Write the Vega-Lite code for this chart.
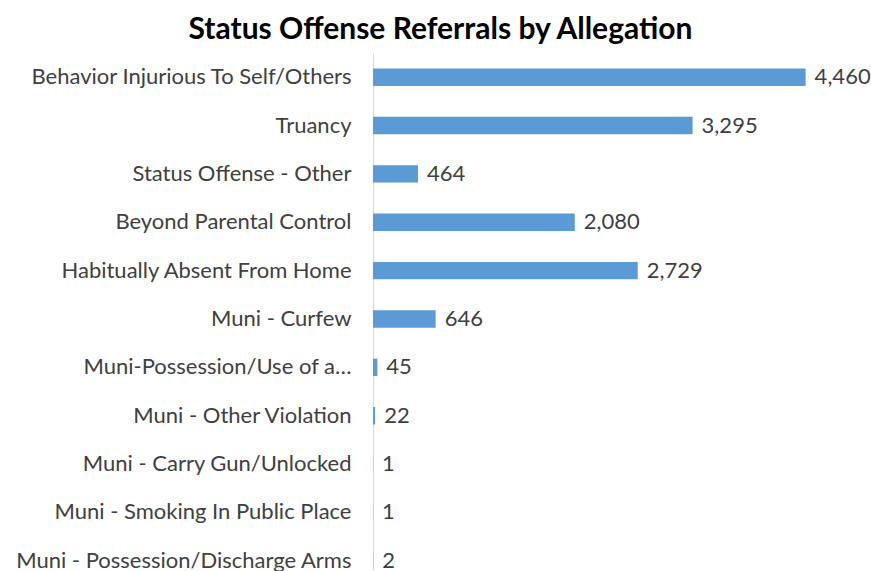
{
  "$schema": "https://vega.github.io/schema/vega-lite/v6.json",
  "autosize": "none",
  "padding": {"left": 373, "top": 53, "right": 13, "bottom": 0},
  "width": 485,
  "height": 532,
  "background": "white",
  "title": {
    "text": "Status Offense Referrals by Allegation",
    "font": "Lato",
    "fontSize": 30,
    "fontWeight": "bold",
    "color": "#000000",
    "anchor": "middle",
    "dx": -175,
    "offset": 8
  },
  "data": {
    "values": [
      {"allegation": "Behavior Injurious To Self/Others", "count": 4460},
      {"allegation": "Truancy", "count": 3295},
      {"allegation": "Status Offense - Other", "count": 464},
      {"allegation": "Beyond Parental Control", "count": 2080},
      {"allegation": "Habitually Absent From Home", "count": 2729},
      {"allegation": "Muni - Curfew", "count": 646},
      {"allegation": "Muni-Possession/Use of a…", "count": 45},
      {"allegation": "Muni - Other Violation", "count": 22},
      {"allegation": "Muni - Carry Gun/Unlocked", "count": 1},
      {"allegation": "Muni - Smoking In Public Place", "count": 1},
      {"allegation": "Muni - Possession/Discharge Arms", "count": 2}
    ]
  },
  "encoding": {
    "y": {
      "field": "allegation",
      "type": "nominal",
      "sort": null,
      "scale": {"paddingInner": 0.64, "paddingOuter": 0.32},
      "axis": {
        "title": null,
        "ticks": false,
        "domain": true,
        "domainColor": "#d9d9d9",
        "domainWidth": 1,
        "labelFont": "Lato",
        "labelFontSize": 22,
        "labelColor": "#404040",
        "labelPadding": 22,
        "labelLimit": 400
      }
    },
    "x": {
      "field": "count",
      "type": "quantitative",
      "scale": {"domain": [0, 5000]},
      "axis": null
    }
  },
  "layer": [
    {"mark": {"type": "bar", "color": "#5B9BD5"}},
    {
      "mark": {
        "type": "text",
        "align": "left",
        "baseline": "middle",
        "dx": 9,
        "font": "Lato",
        "fontSize": 22,
        "color": "#404040"
      },
      "encoding": {"text": {"field": "count", "type": "quantitative", "format": ","}}
    }
  ],
  "config": {"view": {"stroke": null}}
}
